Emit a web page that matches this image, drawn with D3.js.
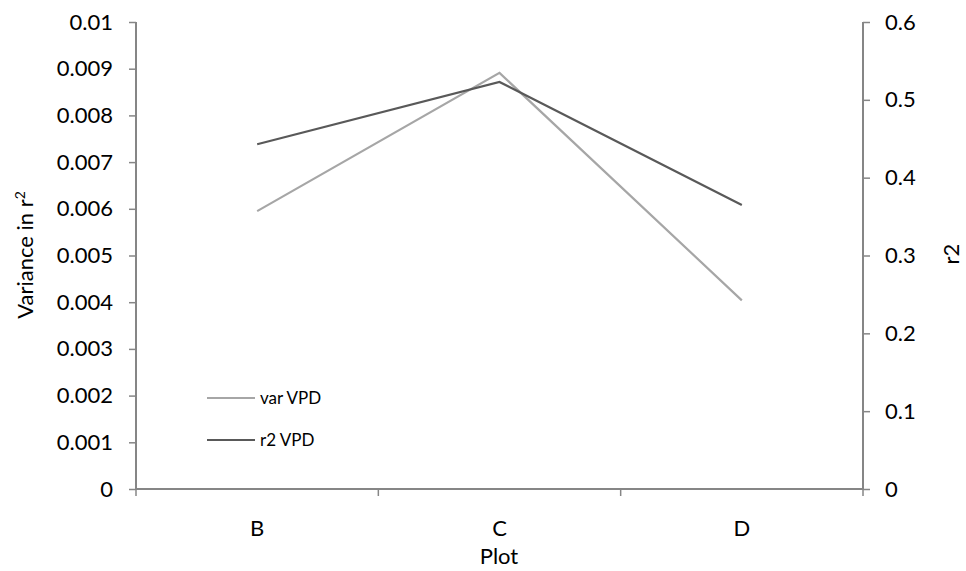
<!DOCTYPE html>
<html><head><meta charset="utf-8">
<script src="https://cdn.jsdelivr.net/npm/d3@7"></script>
<style>body{margin:0;background:#fff}svg{display:block}text{font-family:Lato,"Open Sans",sans-serif;fill:#000}</style>
</head><body><svg id="c" width="966" height="571"></svg>
<script>
const categories = ["B", "C", "D"];
const varVPD = [0.00595, 0.00891, 0.00404];
const r2VPD = [0.443, 0.523, 0.365];
const leftTicks = [0, 0.001, 0.002, 0.003, 0.004, 0.005, 0.006, 0.007, 0.008, 0.009, 0.01];
const rightTicks = [0, 0.1, 0.2, 0.3, 0.4, 0.5, 0.6];
const seriesNames = ["var VPD", "r2 VPD"];

const svg = d3.select("#c");
const L = 136, R = 863, T = 22, B = 489;
const axisColor = "#868686";
const fs = 22;

const x = d3.scaleBand().domain(categories).range([L, R]);
const yL = d3.scaleLinear().domain([0, 0.01]).range([B, T]);
const yR = d3.scaleLinear().domain([0, 0.6]).range([B, T]);

const gL = svg.append("g").attr("transform", `translate(${L},0)`)
  .call(d3.axisLeft(yL).tickValues(leftTicks).tickSize(7).tickPadding(16)
    .tickFormat(d => d === 0 ? "0" : d3.format("")(+d.toFixed(3))));
const gR = svg.append("g").attr("transform", `translate(${R},0)`)
  .call(d3.axisRight(yR).tickValues(rightTicks).tickSize(7).tickPadding(15)
    .tickFormat(d => d === 0 ? "0" : d3.format(".1f")(d)));
const gB = svg.append("g").attr("transform", `translate(0,${B})`)
  .call(d3.axisBottom(x).tickSize(0).tickPadding(31));
gB.selectAll(".tick line").remove();
const bounds = categories.map(c => x(c)).concat([x(categories[categories.length-1]) + x.bandwidth()]);
gB.selectAll(".bt").data(bounds).enter().append("line")
  .attr("x1", d => d).attr("x2", d => d).attr("y1", 0).attr("y2", 7)
  .attr("stroke", axisColor).attr("stroke-width", 1.5);

[gL, gR, gB].forEach(g => {
  g.select(".domain").attr("stroke", axisColor).attr("stroke-width", 2);
  g.selectAll(".tick line").attr("stroke", axisColor).attr("stroke-width", 1.5);
  g.selectAll(".tick text").attr("font-size", fs).attr("font-family", "Lato").attr("fill", "#000");
});
gL.select(".domain").attr("d", `M0,${T}V${B}`);
gR.select(".domain").attr("d", `M0,${T}V${B}`);
gB.select(".domain").attr("d", `M${L},0H${R}`);

const cx = c => x(c) + x.bandwidth() / 2;
const lineL = d3.line().x((d, i) => cx(categories[i])).y(d => yL(d));
const lineR = d3.line().x((d, i) => cx(categories[i])).y(d => yR(d));
svg.append("path").datum(varVPD).attr("d", lineL).attr("fill", "none")
  .attr("stroke", "#A6A6A6").attr("stroke-width", 2.2);
svg.append("path").datum(r2VPD).attr("d", lineR).attr("fill", "none")
  .attr("stroke", "#595959").attr("stroke-width", 2.2);

const colors = ["#A6A6A6", "#595959"];
seriesNames.forEach((n, i) => {
  const y = 398 + i * 42;
  svg.append("line").attr("x1", 207).attr("x2", 255).attr("y1", y).attr("y2", y)
    .attr("stroke", colors[i]).attr("stroke-width", 2.2);
  svg.append("text").attr("x", 260).attr("y", y).attr("dy", "0.35em")
    .attr("font-size", 17).text(n);
});

svg.append("text").attr("x", 499).attr("y", 556).attr("dy", "0.35em")
  .attr("text-anchor", "middle").attr("font-size", fs).text("Plot");
const vt = svg.append("text").attr("transform", "translate(25,255) rotate(-90)")
  .attr("dy", "0.35em").attr("text-anchor", "middle").attr("font-size", fs);
vt.append("tspan").text("Variance in r");
vt.append("tspan").attr("baseline-shift", "super").attr("font-size", 14).text("2");
svg.append("text").attr("transform", "translate(951,254) rotate(-90)")
  .attr("dy", "0.35em").attr("text-anchor", "middle").attr("font-size", fs).text("r2");
</script></body></html>
